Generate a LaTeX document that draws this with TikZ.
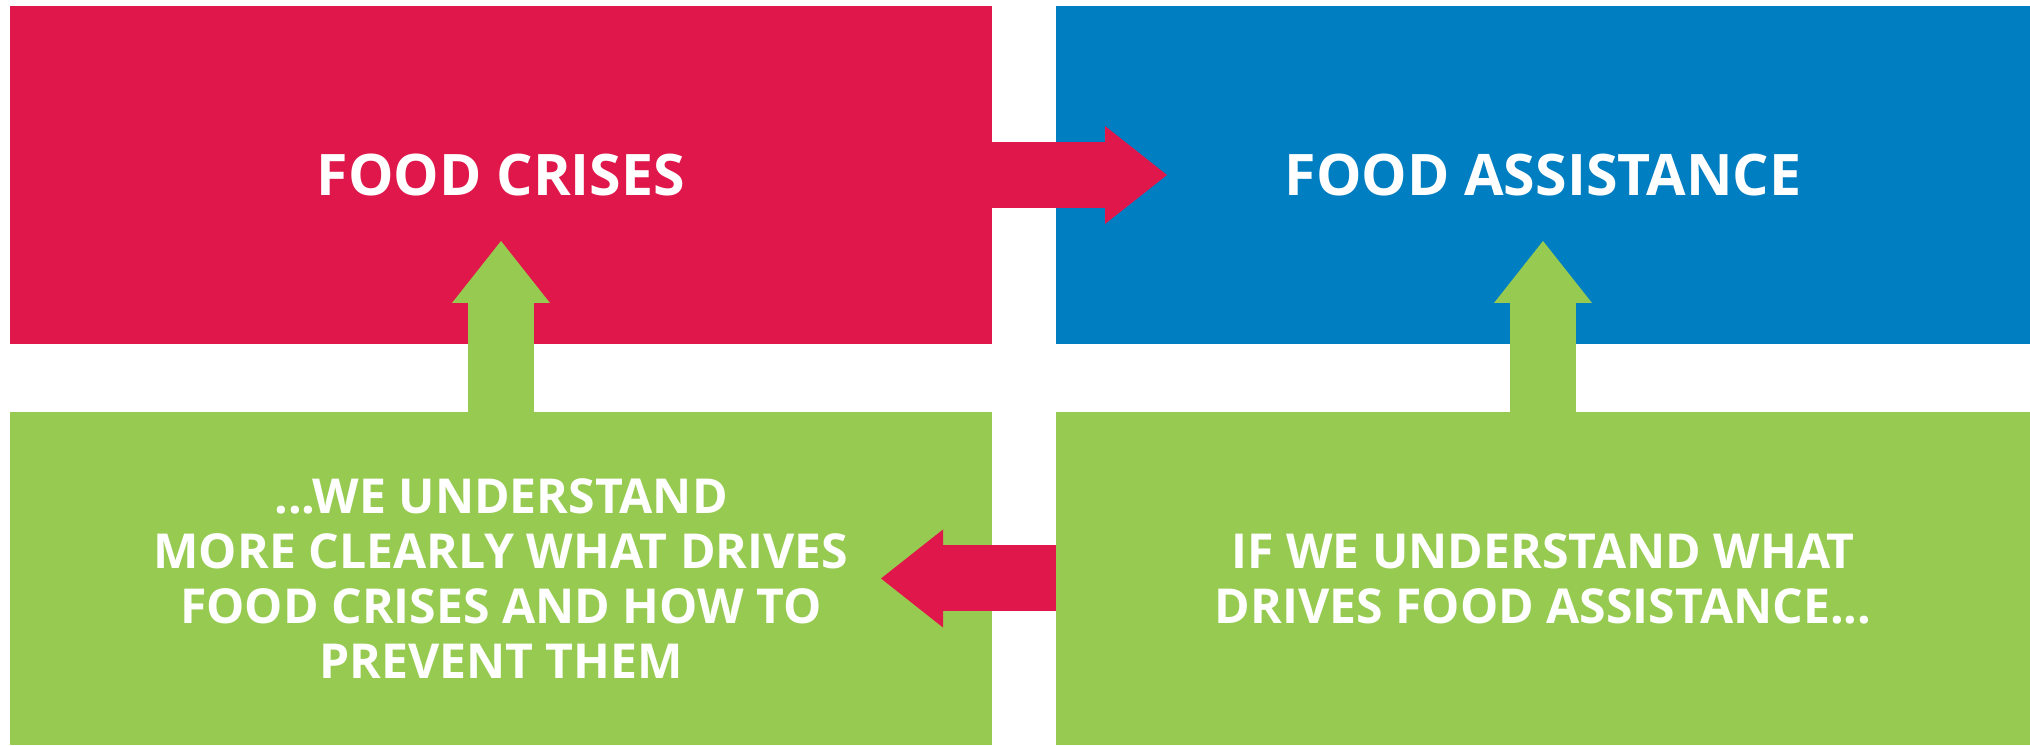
\documentclass[tikz,border=0pt]{standalone}
\usepackage{fontspec}
\setmainfont{Open Sans}
\usetikzlibrary{positioning, arrows.meta}
\definecolor{crisisred}{RGB}{224, 23, 74}
\definecolor{aidblue}{RGB}{0, 126, 194}
\definecolor{drivegreen}{RGB}{150, 202, 80}

\begin{document}
\begin{tikzpicture}[
  panel/.style={minimum width=9.82cm, minimum height=3.38cm, inner sep=0pt, outer sep=0pt, text=white, align=center},
  toptext/.style={font=\fontsize{16.3}{19}\selectfont\bfseries},
  lowtext/.style={font=\fontsize{13.7}{15.65}\selectfont\bfseries},
  blockarrow/.style={line width=0.66cm, -{Triangle[length=0.62cm, width=0.98cm, line width=0pt]}}
]
 \useasboundingbox (0, 0) rectangle (20.30, 7.45);
 % the four panels
 \node[panel, toptext, fill=crisisred] (crises) at (5.01, 5.70) {FOOD CRISES};
 \node[panel, toptext, fill=aidblue, minimum width=9.74cm, right=0.64cm of crises] (assist) {FOOD ASSISTANCE};
 \node[panel, lowtext, fill=drivegreen, minimum height=3.33cm, below=0.68cm of crises] (clearly) {...WE UNDERSTAND\\MORE CLEARLY WHAT DRIVES\\FOOD CRISES AND HOW TO\\PREVENT THEM};
 \node[panel, lowtext, fill=drivegreen, minimum width=9.74cm, minimum height=3.33cm, below=0.68cm of assist] (ifwe) {IF WE UNDERSTAND WHAT\\DRIVES FOOD ASSISTANCE...};
 % arrow tips
 \coordinate[right=1.75cm of crises.east] (assisttip);
 \coordinate[left=1.75cm of ifwe.west] (clearlytip);
 \coordinate[above=1.71cm of clearly.north] (crisestip);
 \coordinate[above=1.71cm of ifwe.north] (ifwetip);
 % arrows
 \draw[blockarrow, crisisred] (crises.east) -- (assisttip);
 \draw[blockarrow, crisisred] (ifwe.west) -- (clearlytip);
 \draw[blockarrow, drivegreen] (clearly.north) -- (crisestip);
 \draw[blockarrow, drivegreen] (ifwe.north) -- (ifwetip);
\end{tikzpicture}
\end{document}
